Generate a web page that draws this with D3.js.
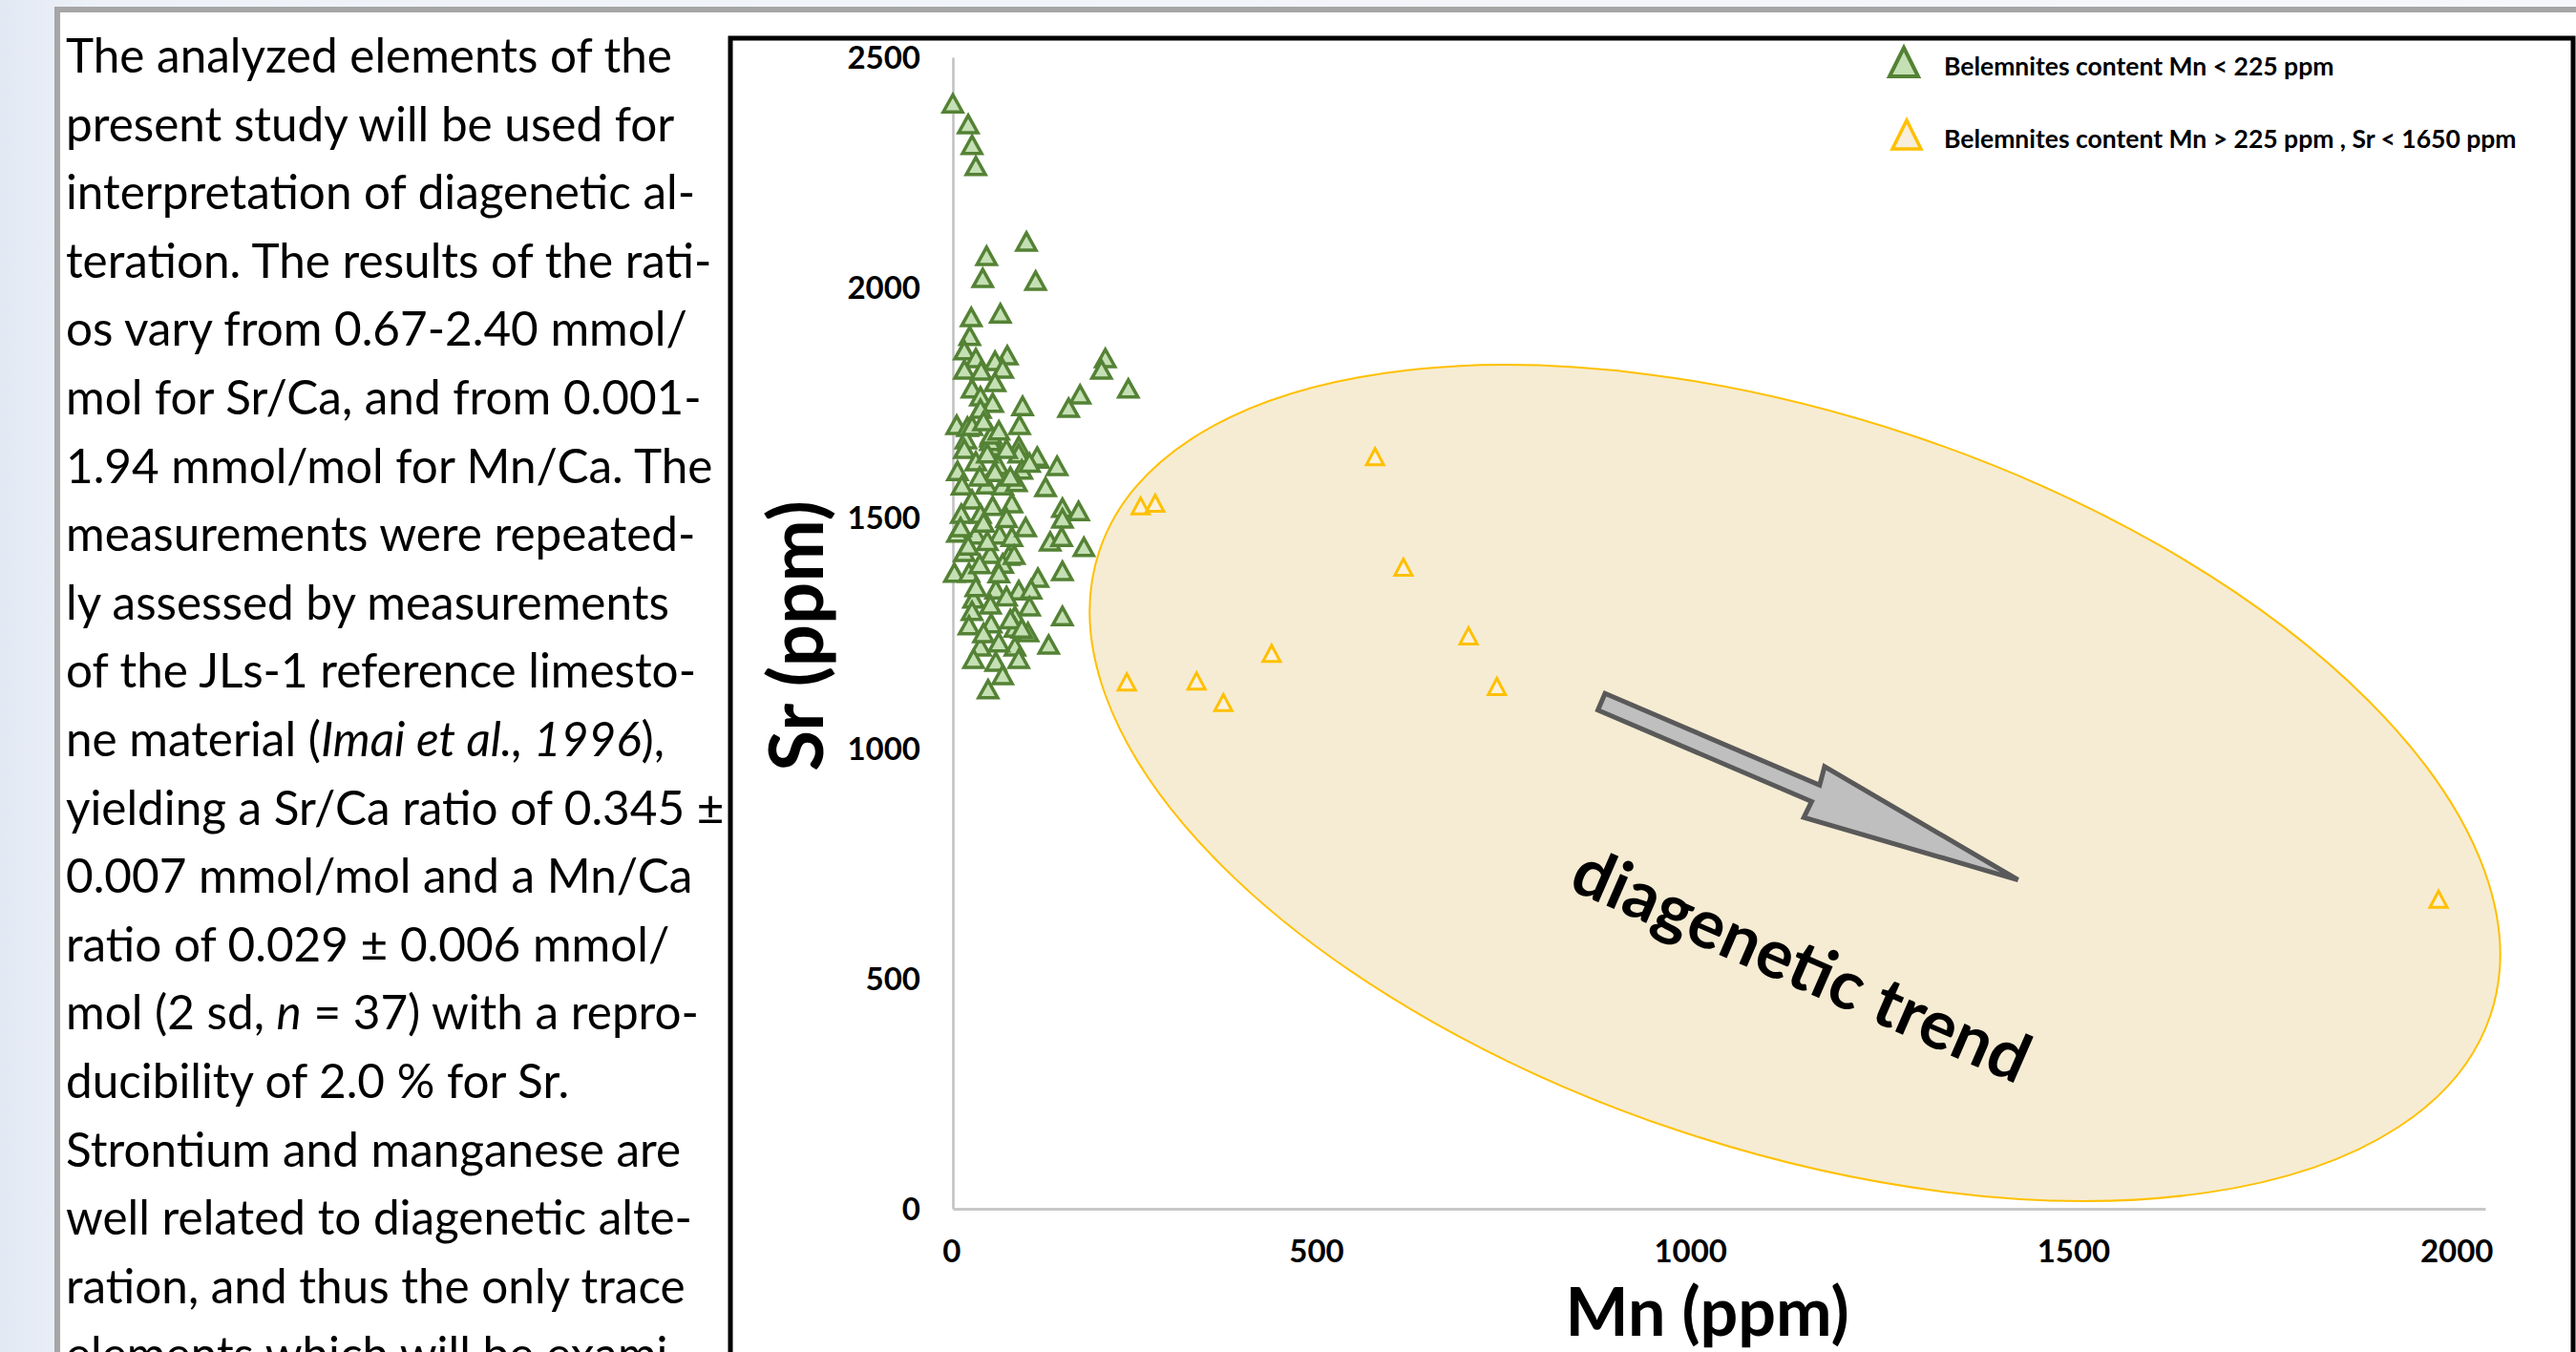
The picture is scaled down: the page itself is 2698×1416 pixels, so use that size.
<!DOCTYPE html>
<html>
<head>
<meta charset="utf-8">
<script src="https://cdn.jsdelivr.net/npm/d3@7"></script>
<style>
body { margin: 0; background: #fff; overflow: hidden; }
svg { display: block; }
</style>
</head>
<body>
<div id="chart"></div>
<script>
const width = 2698;
const height = 1416;

// paragraph beside the chart, *...* marks italic
const textLines = [
    "The analyzed elements of the",
    "present study will be used for",
    "interpretation of diagenetic al-",
    "teration. The results of the rati-",
    "os vary from 0.67-2.40 mmol/",
    "mol for Sr/Ca, and from 0.001-",
    "1.94 mmol/mol for Mn/Ca. The",
    "measurements were repeated-",
    "ly assessed by measurements",
    "of the JLs-1 reference limesto-",
    "ne material (*Imai et al., 1996*),",
    "yielding a Sr/Ca ratio of 0.345 \u00b1",
    "0.007 mmol/mol and a Mn/Ca",
    "ratio of 0.029 \u00b1 0.006 mmol/",
    "mol (2 sd, *n* = 37) with a repro-",
    "ducibility of 2.0 % for Sr.",
    "Strontium and manganese are",
    "well related to diagenetic alte-",
    "ration, and thus the only trace",
    "elements which will be exami-"
];

const xTicks = [0, 500, 1000, 1500, 2000];
const yTicks = [0, 500, 1000, 1500, 2000, 2500];

const greenMn = [0, 20, 25, 30, 96, 44, 39, 108, 24, 62, 22, 71, 199, 194, 229, 166, 151, 91, 87, 5, 19,
    15, 30, 55, 15, 37, 65, 55, 25, 36, 52, 36, 17, 15, 49, 50, 86, 86, 111, 136, 6, 30, 59, 90, 121,
    12, 44, 65, 83, 25, 52, 77, 143, 164, 11, 36, 49, 50, 110,
    143, 6, 30, 61, 77, 127, 142, 171, 15, 49, 73, 2, 21, 65, 143, 111, 86, 102, 27, 56, 49, 100,
    143, 25, 81, 21, 50, 81, 98, 36, 81, 125, 27, 56, 86, 65, 46,
    10, 40, 70, 20, 95, 35, 60, 45, 80, 30, 70, 40, 60, 75, 90, 55, 75, 35, 45, 70, 25, 40, 60, 100];
const greenSr = [2400, 2355, 2310, 2264, 2100, 2069, 2021, 2015, 1936, 1944, 1895, 1853, 1847, 1822, 1781, 1768, 1739, 1743, 1702, 1702, 1698,
    1864, 1847, 1841, 1822, 1820, 1824, 1795, 1781, 1764, 1750, 1737, 1671, 1650, 1675, 1656, 1656, 1640, 1629, 1613, 1602, 1623, 1615, 1605, 1567,
    1571, 1573, 1571, 1578, 1540, 1526, 1532, 1522, 1515, 1509, 1509, 1667, 1681, 1633,
    1499, 1468, 1464, 1464, 1459, 1449, 1459, 1437, 1426, 1422, 1418, 1381, 1381, 1401, 1385, 1370, 1343, 1345, 1325, 1345, 1312, 1308,
    1287, 1298, 1287, 1267, 1271, 1262, 1252, 1221, 1221, 1225, 1194, 1188, 1194, 1159, 1128,
    1480, 1490, 1500, 1440, 1480, 1400, 1380, 1450, 1420, 1350, 1330, 1250, 1230, 1280, 1260, 1600, 1590, 1590, 1640, 1650, 1700, 1710, 1690, 1620];

const yellowMn = [551, 245, 264, 588, 673, 416, 227, 318, 353, 710, 1939];
const yellowSr = [1633, 1526, 1532, 1393, 1244, 1206, 1144, 1146, 1099, 1134, 672];

const legendLabels = ["Belemnites content Mn < 225 ppm", "Belemnites content Mn > 225 ppm , Sr < 1650 ppm"];

const green = greenMn.map((d, i) => ({ mn: d, sr: greenSr[i] }));
const yellow = yellowMn.map((d, i) => ({ mn: d, sr: yellowSr[i] }));

const font = "Lato, 'Open Sans', sans-serif";

const svg = d3.select("#chart")
    .append("svg")
    .attr("width", width)
    .attr("height", height)
    .style("font-family", font);

const defs = svg.append("defs");
const grad = defs.append("linearGradient")
    .attr("id", "bg")
    .attr("x1", 0).attr("x2", 1).attr("y1", 0).attr("y2", 0);
grad.append("stop").attr("offset", "0%").attr("stop-color", "#e2e9f4");
grad.append("stop").attr("offset", "4%").attr("stop-color", "#eef2f8");
grad.append("stop").attr("offset", "100%").attr("stop-color", "#f6f7fa");

svg.append("rect")
    .attr("width", width)
    .attr("height", height)
    .attr("fill", "url(#bg)");

// page panel
svg.append("rect")
    .attr("x", 60).attr("y", 10)
    .attr("width", 2800).attr("height", 1600)
    .attr("fill", "#fff")
    .attr("stroke", "#a6a6a6")
    .attr("stroke-width", 6);

// paragraph
const para = svg.append("g").attr("class", "para");
const probe = para.append("text").attr("font-size", 100).text(textLines[0]);
const fontSize = 100 * 635 / probe.node().getComputedTextLength();
probe.remove();

textLines.forEach((line, i) => {
    const t = para.append("text")
        .attr("x", 69)
        .attr("y", 76 + i * 71.6)
        .attr("font-size", fontSize)
        .attr("fill", "#000");
    line.split("*").forEach((part, j) => {
        t.append("tspan")
            .attr("font-style", j % 2 ? "italic" : "normal")
            .text(part);
    });
});

// chart frame
svg.append("rect")
    .attr("x", 765).attr("y", 40)
    .attr("width", 1930).attr("height", 1600)
    .attr("fill", "#fff")
    .attr("stroke", "#000")
    .attr("stroke-width", 5);

const x = d3.scaleLinear().domain([0, 2000]).range([998, 2603]);
const y = d3.scaleLinear().domain([0, 2500]).range([1266, 60]);

const tri = (w, h) => `M0,${-h / 2}L${w / 2},${h / 2}L${-w / 2},${h / 2}Z`;

// diagenetic field
svg.append("ellipse")
    .attr("transform", `translate(${x(1099)},${y(924.5)}) rotate(18.44)`)
    .attr("rx", 768)
    .attr("ry", 384)
    .attr("fill", "#f6ecd3")
    .attr("stroke", "#ffc000")
    .attr("stroke-width", 2);

// axes
const yAxis = svg.append("g")
    .attr("transform", `translate(${x(0)},0)`)
    .call(d3.axisLeft(y).tickValues(yTicks).tickFormat(d3.format("d")).tickSize(0).tickPadding(34));
yAxis.select(".domain").attr("stroke", "#c0c0c0").attr("stroke-width", 2.5);
yAxis.selectAll("text")
    .attr("font-family", font)
    .attr("font-size", 33)
    .attr("font-weight", "bold")
    .attr("fill", "#000")
    .attr("dy", "0.35em");

const xAxis = svg.append("g")
    .attr("transform", `translate(0,${y(0)})`)
    .call(d3.axisBottom(x).tickValues(xTicks).tickFormat(d3.format("d")).tickSize(0).tickPadding(36));
xAxis.select(".domain").attr("stroke", "#c8c8c8").attr("stroke-width", 3);
xAxis.selectAll("text")
    .attr("font-family", font)
    .attr("font-size", 33)
    .attr("font-weight", "bold")
    .attr("fill", "#000")
    .attr("text-anchor", "end")
    .attr("dx", 8)
    .attr("y", 44)
    .attr("dy", "0.35em");

// points
svg.append("g")
    .selectAll("path")
    .data(green)
    .join("path")
    .attr("transform", (d) => `translate(${x(d.mn)},${y(d.sr)})`)
    .attr("d", tri(20, 18))
    .attr("fill", "#c5e0b4")
    .attr("stroke", "#548235")
    .attr("stroke-width", 3.5)
    .attr("stroke-linejoin", "miter");

svg.append("g")
    .selectAll("path")
    .data(yellow)
    .join("path")
    .attr("transform", (d) => `translate(${x(d.mn)},${y(d.sr)})`)
    .attr("d", tri(18, 17))
    .attr("fill", "#fbf1dc")
    .attr("stroke", "#ffc000")
    .attr("stroke-width", 3);

// trend arrow
svg.append("path")
    .attr("transform", "translate(1675,734) rotate(23.15)")
    .attr("d", "M2.5,-9.5L247,-9.5L244,-29.5L477,0L245,28L246,9.5L2.5,9.5Z")
    .attr("fill", "#bfbfbf")
    .attr("stroke", "#595959")
    .attr("stroke-width", 5)
    .attr("stroke-linejoin", "miter");

svg.append("text")
    .attr("transform", "translate(1888,1008) rotate(23.5)")
    .attr("text-anchor", "middle")
    .attr("dominant-baseline", "central")
    .attr("font-size", 71)
    .attr("font-weight", "bold")
    .text("diagenetic trend");

// axis titles
svg.append("text")
    .attr("x", 1788)
    .attr("y", 1399)
    .attr("text-anchor", "middle")
    .attr("font-size", 70)
    .attr("font-weight", "bold")
    .text("Mn (ppm)");

svg.append("text")
    .attr("transform", "translate(862,666) rotate(-90)")
    .attr("text-anchor", "middle")
    .attr("font-size", 78)
    .attr("font-weight", "bold")
    .text("Sr (ppm)");

// legend
const legend = svg.append("g");
const legendStyle = [
    { cx: 1994, cy: 65, fill: "#c5e0b4", stroke: "#548235", sw: 4 },
    { cx: 1997, cy: 141, fill: "#f7eedb", stroke: "#ffc000", sw: 3.5 }
];
legendLabels.forEach((label, i) => {
    const s = legendStyle[i];
    legend.append("path")
        .attr("transform", `translate(${s.cx},${s.cy})`)
        .attr("d", tri(30, 30))
        .attr("fill", s.fill)
        .attr("stroke", s.stroke)
        .attr("stroke-width", s.sw);
    legend.append("text")
        .attr("x", 2036)
        .attr("y", s.cy + 4)
        .attr("dominant-baseline", "central")
        .attr("font-size", 26.5)
        .attr("font-weight", "bold")
        .text(label);
});
</script>
</body>
</html>
